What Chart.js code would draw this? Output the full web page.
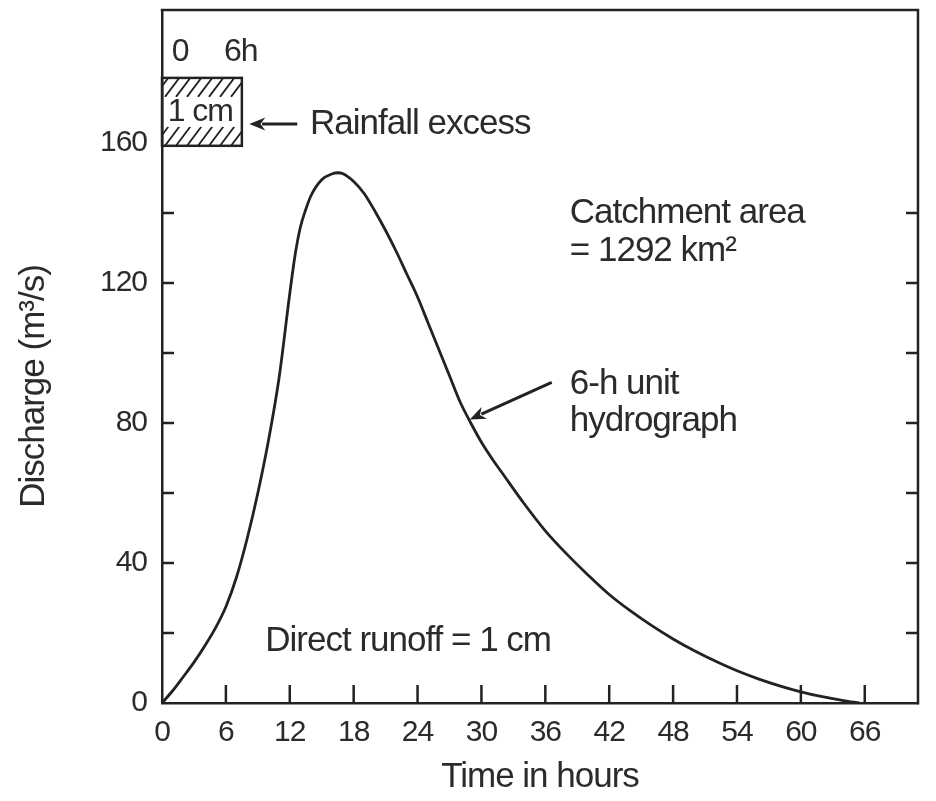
<!DOCTYPE html>
<html>
<head>
<meta charset="utf-8">
<script src="https://cdn.jsdelivr.net/npm/chart.js@4.4.1/dist/chart.umd.min.js"></script>
<style>
  html, body { margin: 0; padding: 0; background: #ffffff; }
  canvas { display: block; }
</style>
</head>
<body>
<canvas id="chart" width="936" height="801"></canvas>
<script>
// ---- data ----
const hours = [0, 1, 2, 3, 4, 5, 6, 7, 8, 9, 10, 11, 12, 12.5, 13, 13.5, 14, 15, 16, 16.5, 17, 18, 19, 20, 21, 22, 23, 24, 25, 26, 27, 28, 29, 30, 31, 32, 34, 36, 38, 40, 42, 44, 46, 48, 50, 52, 54, 56, 58, 60, 62, 64, 65.5];
const discharge = [0, 3.5, 7.5, 11.6, 16.2, 21.3, 27.5, 36, 47, 60, 75, 93, 117, 128, 136, 141, 145, 149.5, 151.2, 151.5, 151.2, 149, 145.5, 140.5, 135, 129, 122.5, 116, 108.5, 101, 93.5, 86, 80, 74.5, 69.8, 65.5, 57, 49.2, 42.6, 36.6, 31, 26.3, 22.1, 18.3, 14.9, 11.9, 9.2, 6.9, 4.9, 3.2, 1.8, 0.7, 0];
const xTickLabels = [0, 6, 12, 18, 24, 30, 36, 42, 48, 54, 60, 66];
const yTickLabels = [0, 40, 80, 120, 160];
const yMinorTicks = [20, 40, 60, 80, 100, 120, 140];
const xInnerTicks = [6, 12, 18, 24, 30, 36, 42, 48, 54, 60, 66];
const rainfallBlock = { start: 0, end: 7.5, low: 159.2, high: 178.6 };
const rainfallLabels = ['0', '6h', '1 cm'];
const notes = ['Rainfall excess', 'Catchment area', '= 1292 km²', '6-h unit', 'hydrograph', 'Direct runoff = 1 cm'];
const yAxisTitle = 'Discharge (m³/s)';
const xAxisTitle = 'Time in hours';

const INK = '#222222';
const TEXT = '#2b2b2b';
const FONT = "'Liberation Sans', Arial, Helvetica, sans-serif";
const SPACING = '-1px';

const overlay = {
  id: 'overlay',
  beforeLayout(chart) { chart.ctx.letterSpacing = SPACING; },
  beforeDraw(chart) { chart.ctx.letterSpacing = SPACING; },
  afterDatasetsDraw(chart) {
    const { ctx, chartArea: a, scales: { x, y } } = chart;
    ctx.save();
    ctx.letterSpacing = SPACING;
    ctx.strokeStyle = INK;
    ctx.lineWidth = 2.5;
    ctx.lineCap = 'butt';
    // top and right frame
    ctx.beginPath();
    ctx.moveTo(a.left - 1.25, a.top);
    ctx.lineTo(a.right, a.top);
    ctx.lineTo(a.right, a.bottom + 1.25);
    ctx.stroke();
    // inward x ticks
    ctx.beginPath();
    xInnerTicks.forEach(v => {
      const px = x.getPixelForValue(v);
      ctx.moveTo(px, a.bottom);
      ctx.lineTo(px, a.bottom - 18);
    });
    // inward y ticks both sides
    yMinorTicks.forEach(v => {
      const py = y.getPixelForValue(v);
      ctx.moveTo(a.left, py); ctx.lineTo(a.left + 12, py);
      ctx.moveTo(a.right, py); ctx.lineTo(a.right - 12, py);
    });
    ctx.stroke();

    // rainfall excess block
    const bx0 = x.getPixelForValue(rainfallBlock.start);
    const bx1 = x.getPixelForValue(rainfallBlock.end);
    const by0 = y.getPixelForValue(rainfallBlock.high);
    const by1 = y.getPixelForValue(rainfallBlock.low);
    const stripH = 19;
    ctx.lineWidth = 1.8;
    [[by0, by0 + stripH], [by1 - stripH, by1]].forEach(([t, b]) => {
      ctx.save();
      ctx.beginPath();
      ctx.rect(bx0, t, bx1 - bx0, b - t);
      ctx.clip();
      ctx.beginPath();
      for (let sx = bx0 - 30; sx < bx1 + 30; sx += 11) {
        ctx.moveTo(sx, b);
        ctx.lineTo(sx + (b - t) * 0.75, t);
      }
      ctx.stroke();
      ctx.restore();
    });
    ctx.lineWidth = 2.5;
    ctx.strokeRect(bx0, by0, bx1 - bx0, by1 - by0);

    ctx.fillStyle = TEXT;
    ctx.textBaseline = 'middle';
    ctx.textAlign = 'center';
    ctx.font = '32px ' + FONT;
    ctx.fillText(rainfallLabels[0], x.getPixelForValue(1.7), y.getPixelForValue(186));
    ctx.fillText(rainfallLabels[1], x.getPixelForValue(7.4), y.getPixelForValue(186));
    ctx.fillText(rainfallLabels[2], x.getPixelForValue(3.6), y.getPixelForValue(168.8));

    // notes
    ctx.font = '35px ' + FONT;
    ctx.textAlign = 'left';
    ctx.fillText(notes[0], x.getPixelForValue(13.9), y.getPixelForValue(165.2));
    ctx.fillText(notes[1], x.getPixelForValue(38.3), y.getPixelForValue(140));
    ctx.fillText(notes[2], x.getPixelForValue(38.3), y.getPixelForValue(129));
    ctx.fillText(notes[3], x.getPixelForValue(38.3), y.getPixelForValue(91));
    ctx.fillText(notes[4], x.getPixelForValue(38.3), y.getPixelForValue(80.5));
    ctx.fillText(notes[5], x.getPixelForValue(9.7), y.getPixelForValue(17.7));

    // y-axis title (drawn here to match the reference's vertical offset)
    ctx.save();
    ctx.translate(34, (a.top + a.bottom) / 2 + 30);
    ctx.rotate(-Math.PI / 2);
    ctx.textAlign = 'center';
    ctx.fillText(yAxisTitle, 0, 0);
    ctx.restore();

    // arrows
    const arrow = (x0, y0, x1, y1) => {
      const ang = Math.atan2(y1 - y0, x1 - x0);
      const hl = 16, hw = 6.5;
      ctx.lineWidth = 3;
      ctx.beginPath();
      ctx.moveTo(x0, y0);
      ctx.lineTo(x1 - Math.cos(ang) * hl * 0.8, y1 - Math.sin(ang) * hl * 0.8);
      ctx.stroke();
      ctx.beginPath();
      ctx.moveTo(x1, y1);
      ctx.lineTo(x1 - Math.cos(ang) * hl - Math.sin(ang) * hw, y1 - Math.sin(ang) * hl + Math.cos(ang) * hw);
      ctx.lineTo(x1 - Math.cos(ang) * hl * 0.7, y1 - Math.sin(ang) * hl * 0.7);
      ctx.lineTo(x1 - Math.cos(ang) * hl + Math.sin(ang) * hw, y1 - Math.sin(ang) * hl - Math.cos(ang) * hw);
      ctx.closePath();
      ctx.fillStyle = INK;
      ctx.fill();
    };
    arrow(x.getPixelForValue(12.7), y.getPixelForValue(165.4), x.getPixelForValue(8.2), y.getPixelForValue(165.4));
    arrow(x.getPixelForValue(36.6), y.getPixelForValue(91.6), x.getPixelForValue(28.9), y.getPixelForValue(81));
    ctx.restore();
  }
};

new Chart(document.getElementById('chart'), {
  type: 'line',
  data: {
    datasets: [{
      label: '6-h unit hydrograph',
      data: hours.map((h, i) => ({ x: h, y: discharge[i] })),
      borderColor: INK,
      borderWidth: 2.8,
      pointRadius: 0,
      fill: false,
      cubicInterpolationMode: 'monotone'
    }]
  },
  options: {
    responsive: false,
    animation: false,
    devicePixelRatio: 1,
    layout: { padding: { top: 10, right: 18, left: 0, bottom: 0 } },
    plugins: { legend: { display: false }, tooltip: { enabled: false } },
    scales: {
      x: {
        type: 'linear',
        min: 0,
        max: 71,
        afterBuildTicks: s => { s.ticks = xTickLabels.map(v => ({ value: v })); },
        afterFit: s => { s.height = 98; s.paddingLeft = 0; s.paddingRight = 0; },
        grid: { display: false },
        border: { display: true, color: INK, width: 2.5 },
        ticks: { color: TEXT, font: { family: FONT, size: 30 }, padding: 4, maxRotation: 0, autoSkip: false },
        title: { display: true, text: xAxisTitle, color: TEXT, font: { family: FONT, size: 35 }, padding: { top: 0, bottom: 3 } }
      },
      y: {
        type: 'linear',
        min: 0,
        max: 198,
        afterBuildTicks: s => { s.ticks = yTickLabels.map(v => ({ value: v })); },
        afterFit: s => { s.width = 162; s.paddingTop = 0; s.paddingBottom = 0; },
        grid: { display: false },
        border: { display: true, color: INK, width: 2.5 },
        ticks: { color: TEXT, font: { family: FONT, size: 30 }, padding: 7, autoSkip: false },
        title: { display: false, text: yAxisTitle }
      }
    }
  },
  plugins: [overlay]
});
</script>
</body>
</html>
